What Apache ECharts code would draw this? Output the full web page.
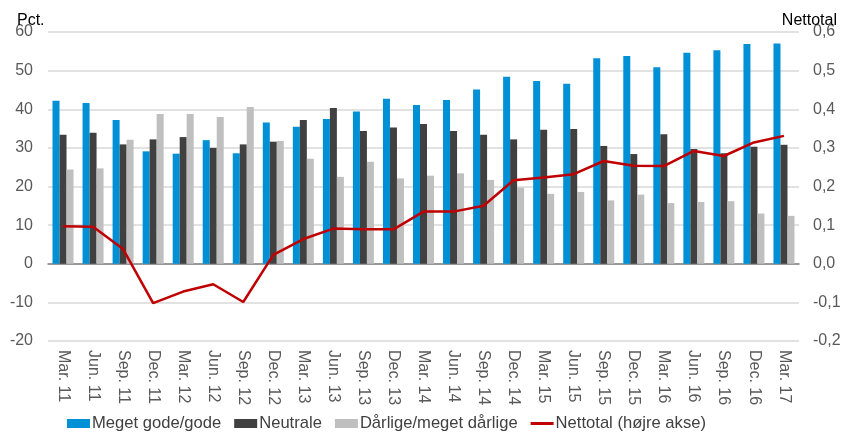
<!DOCTYPE html>
<html><head><meta charset="utf-8">
<script src="https://cdn.jsdelivr.net/npm/echarts@6/dist/echarts.min.js"></script>
<style>html,body{margin:0;padding:0;background:#fff}#c{width:848px;height:437px}</style>
</head><body><div id="c"></div>
<script>
const categories = ['Mar. 11','Jun. 11','Sep. 11','Dec. 11','Mar. 12','Jun. 12','Sep. 12','Dec. 12','Mar. 13','Jun. 13','Sep. 13','Dec. 13','Mar. 14','Jun. 14','Sep. 14','Dec. 14','Mar. 15','Jun. 15','Sep. 15','Dec. 15','Mar. 16','Jun. 16','Sep. 16','Dec. 16','Mar. 17'];
const megetGode = [42.2,41.6,37.2,29.1,28.5,32.0,28.6,36.6,35.5,37.5,39.4,42.7,41.1,42.4,45.1,48.4,47.3,46.6,53.2,53.8,50.9,54.6,55.3,56.9,57.0];
const neutrale = [33.4,33.9,30.9,32.2,32.8,30.0,30.9,31.6,37.2,40.3,34.4,35.3,36.2,34.4,33.4,32.2,34.7,34.9,30.5,28.4,33.5,29.7,28.6,30.3,30.8];
const daarlige = [24.4,24.7,32.1,38.8,38.8,38.0,40.6,31.8,27.2,22.5,26.4,22.1,22.8,23.4,21.7,19.7,18.1,18.6,16.4,17.9,15.7,16.0,16.2,13.0,12.4];
const nettotal = [0.097,0.096,0.038,-0.102,-0.072,-0.053,-0.099,0.023,0.064,0.091,0.089,0.089,0.135,0.135,0.150,0.216,0.223,0.232,0.266,0.254,0.253,0.292,0.279,0.314,0.331];
const leftTicks = {min:-20, max:60, interval:10};
const rightTicks = {min:-0.2, max:0.6, interval:0.1};
const names = ['Meget gode/gode','Neutrale','Dårlige/meget dårlige','Nettotal (højre akse)'];

const font = 'Liberation Sans, Arial, sans-serif';
const chart = echarts.init(document.getElementById('c'), null, {renderer:'canvas'});
chart.setOption({
  animation:false,
  textStyle:{fontFamily:font},
  grid:{left:48,right:49,top:32,bottom:96},
  title:[
    {text:'Pct.',left:12,top:8,textStyle:{fontSize:16,fontWeight:'normal',color:'#000',fontFamily:font}},
    {text:'Nettotal',right:6,top:8,textStyle:{fontSize:16,fontWeight:'normal',color:'#000',fontFamily:font}}
  ],
  legend:{
    bottom:0,left:62,itemWidth:23,itemHeight:9,itemGap:13,
    textStyle:{fontSize:16.6,color:'#404040',fontFamily:font,padding:[0,0,0,-3]},
    data:[
      {name:names[0],icon:'rect'},
      {name:names[1],icon:'rect'},
      {name:names[2],icon:'rect'},
      {name:names[3],icon:'path://M0,3L23,3L23,6L0,6Z'}
    ]
  },
  xAxis:{
    type:'category',data:categories,boundaryGap:true,
    axisLine:{onZero:true,lineStyle:{color:'#808080',width:1.5}},
    axisTick:{show:false},
    axisLabel:{interval:0,rotate:-90,fontSize:16,color:'#595959',fontFamily:font,margin:9}
  },
  yAxis:[
    {type:'value',min:leftTicks.min,max:leftTicks.max,interval:leftTicks.interval,
     axisLine:{show:false},axisTick:{show:false},
     splitLine:{lineStyle:{color:'#D9D9D9',width:1.5}},
     axisLabel:{fontSize:16,color:'#595959',fontFamily:font,margin:15}},
    {type:'value',min:rightTicks.min,max:rightTicks.max,interval:rightTicks.interval,
     axisLine:{show:false},axisTick:{show:false},splitLine:{show:false},
     axisLabel:{fontSize:16,color:'#595959',fontFamily:font,margin:14,
       formatter:v=>v.toFixed(1).replace('.',',')}}
  ],
  series:[
    {name:names[0],type:'bar',data:megetGode,barWidth:7,barGap:'0%',itemStyle:{color:'#0090D6'}},
    {name:names[1],type:'bar',data:neutrale,barWidth:7,barGap:'0%',itemStyle:{color:'#404040'}},
    {name:names[2],type:'bar',data:daarlige,barWidth:7,barGap:'0%',itemStyle:{color:'#BFBFBF'}},
    {name:names[3],type:'line',yAxisIndex:1,data:nettotal,showSymbol:false,symbol:'none',
     lineStyle:{color:'#C00000',width:2.5},itemStyle:{color:'#C00000'}}
  ]
});
</script></body></html>
